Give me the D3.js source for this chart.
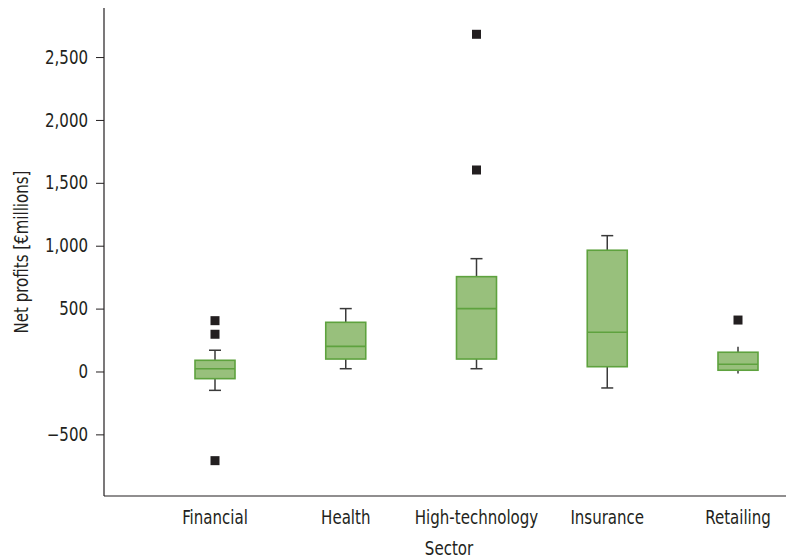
<!DOCTYPE html>
<html>
<head>
<meta charset="utf-8">
<script src="https://cdn.jsdelivr.net/npm/d3@7"></script>
<style>
  body { margin: 0; background: #fff; }
  svg text { font-family: "DejaVu Sans Condensed", "Liberation Sans Narrow", sans-serif; fill: #231f20; }
</style>
</head>
<body>
<svg id="chart" width="786" height="558"></svg>
<script>
// Net profits by sector, € millions
const sectors = ["Financial", "Health", "High-technology", "Insurance", "Retailing"];
const whiskerLow  = [-150,  22,   22, -131, -17];
const quartile1   = [ -57,  99,   99,   38,  10];
const medians     = [  22, 200,  500,  312,  57];
const quartile3   = [  89, 391,  754,  964, 153];
const whiskerHigh = [ 169, 500,  897, 1080, 197];
const outliers = [
  [404, 296, -709],
  [],
  [2681, 1602],
  [],
  [409]
];
const yTicks = [-500, 0, 500, 1000, 1500, 2000, 2500];

const svg = d3.select("#chart");
const axisX = 104, axisBottom = 496, axisTop = 8;
const fontSize = 19, squeeze = 0.88;   // narrow the sans face horizontally

const x = d3.scalePoint().domain(sectors).range([215, 738]);
const y = d3.scaleLinear().domain([-990, 2890]).range([axisBottom, axisTop]);

const boxW = 40, capW = 12, sq = 9;

// axes lines
svg.append("line").attr("x1", axisX).attr("x2", axisX).attr("y1", axisTop).attr("y2", axisBottom)
  .attr("stroke", "#231f20").attr("stroke-width", 1.2);
svg.append("line").attr("x1", axisX).attr("x2", 786).attr("y1", axisBottom).attr("y2", axisBottom)
  .attr("stroke", "#231f20").attr("stroke-width", 1.2);

// y axis ticks and labels
const yAxis = d3.axisLeft(y).tickValues(yTicks).tickSize(8).tickPadding(8)
  .tickFormat(d => d < 0 ? "\u2212" + d3.format(",")(-d) : d3.format(",")(d));
const gy = svg.append("g").attr("transform", `translate(${axisX},0)`).call(yAxis);
gy.select(".domain").remove();
gy.selectAll(".tick line").attr("stroke", "#231f20").attr("stroke-width", 1);
gy.selectAll(".tick text")
  .attr("x", 0)
  .attr("transform", `translate(-16,0) scale(${squeeze},1)`)
  .attr("font-size", fontSize)
  .style("font-family", '"DejaVu Sans Condensed", "Liberation Sans Narrow", sans-serif')
  .attr("fill", "#231f20");

// x axis category labels
svg.append("g").selectAll("text").data(sectors).join("text")
  .attr("transform", d => `translate(${x(d)},524) scale(${squeeze},1)`)
  .attr("text-anchor", "middle").attr("font-size", fontSize)
  .text(d => d);

// axis titles
svg.append("text").attr("transform", `translate(449,555) scale(${squeeze},1)`)
  .attr("text-anchor", "middle").attr("font-size", fontSize).text("Sector");
svg.append("text").attr("transform", `translate(28,252) rotate(-90) scale(${squeeze},1)`)
  .attr("text-anchor", "middle").attr("font-size", fontSize).text("Net profits [€millions]");

// boxes
const boxes = svg.append("g").selectAll("g").data(sectors).join("g")
  .attr("transform", d => `translate(${x(d)},0)`);

boxes.each(function(d, i) {
  const g = d3.select(this);
  const whisk = "#3a3a3a";
  g.append("line").attr("x1", 0).attr("x2", 0)
    .attr("y1", y(whiskerHigh[i])).attr("y2", y(quartile3[i]))
    .attr("stroke", whisk).attr("stroke-width", 1.5);
  g.append("line").attr("x1", 0).attr("x2", 0)
    .attr("y1", y(quartile1[i])).attr("y2", y(whiskerLow[i]))
    .attr("stroke", whisk).attr("stroke-width", 1.5);
  // caps only on whiskers long enough to show them
  if (y(whiskerHigh[i]) < y(quartile3[i]) - 8) {
    g.append("line").attr("x1", -capW / 2).attr("x2", capW / 2)
      .attr("y1", y(whiskerHigh[i])).attr("y2", y(whiskerHigh[i]))
      .attr("stroke", whisk).attr("stroke-width", 1.5);
  }
  if (y(whiskerLow[i]) > y(quartile1[i]) + 8) {
    g.append("line").attr("x1", -capW / 2).attr("x2", capW / 2)
      .attr("y1", y(whiskerLow[i])).attr("y2", y(whiskerLow[i]))
      .attr("stroke", whisk).attr("stroke-width", 1.5);
  }
  g.append("rect").attr("x", -boxW / 2).attr("width", boxW)
    .attr("y", y(quartile3[i])).attr("height", y(quartile1[i]) - y(quartile3[i]))
    .attr("fill", "#98c07c").attr("stroke", "#5ea23e").attr("stroke-width", 1.6);
  g.append("line").attr("x1", -boxW / 2).attr("x2", boxW / 2)
    .attr("y1", y(medians[i])).attr("y2", y(medians[i]))
    .attr("stroke", "#5ea23e").attr("stroke-width", 1.6);
  g.selectAll("rect.out").data(outliers[i]).join("rect").attr("class", "out")
    .attr("x", -sq / 2).attr("width", sq)
    .attr("y", v => y(v) - sq / 2).attr("height", sq)
    .attr("fill", "#231f20");
});
</script>
</body>
</html>
